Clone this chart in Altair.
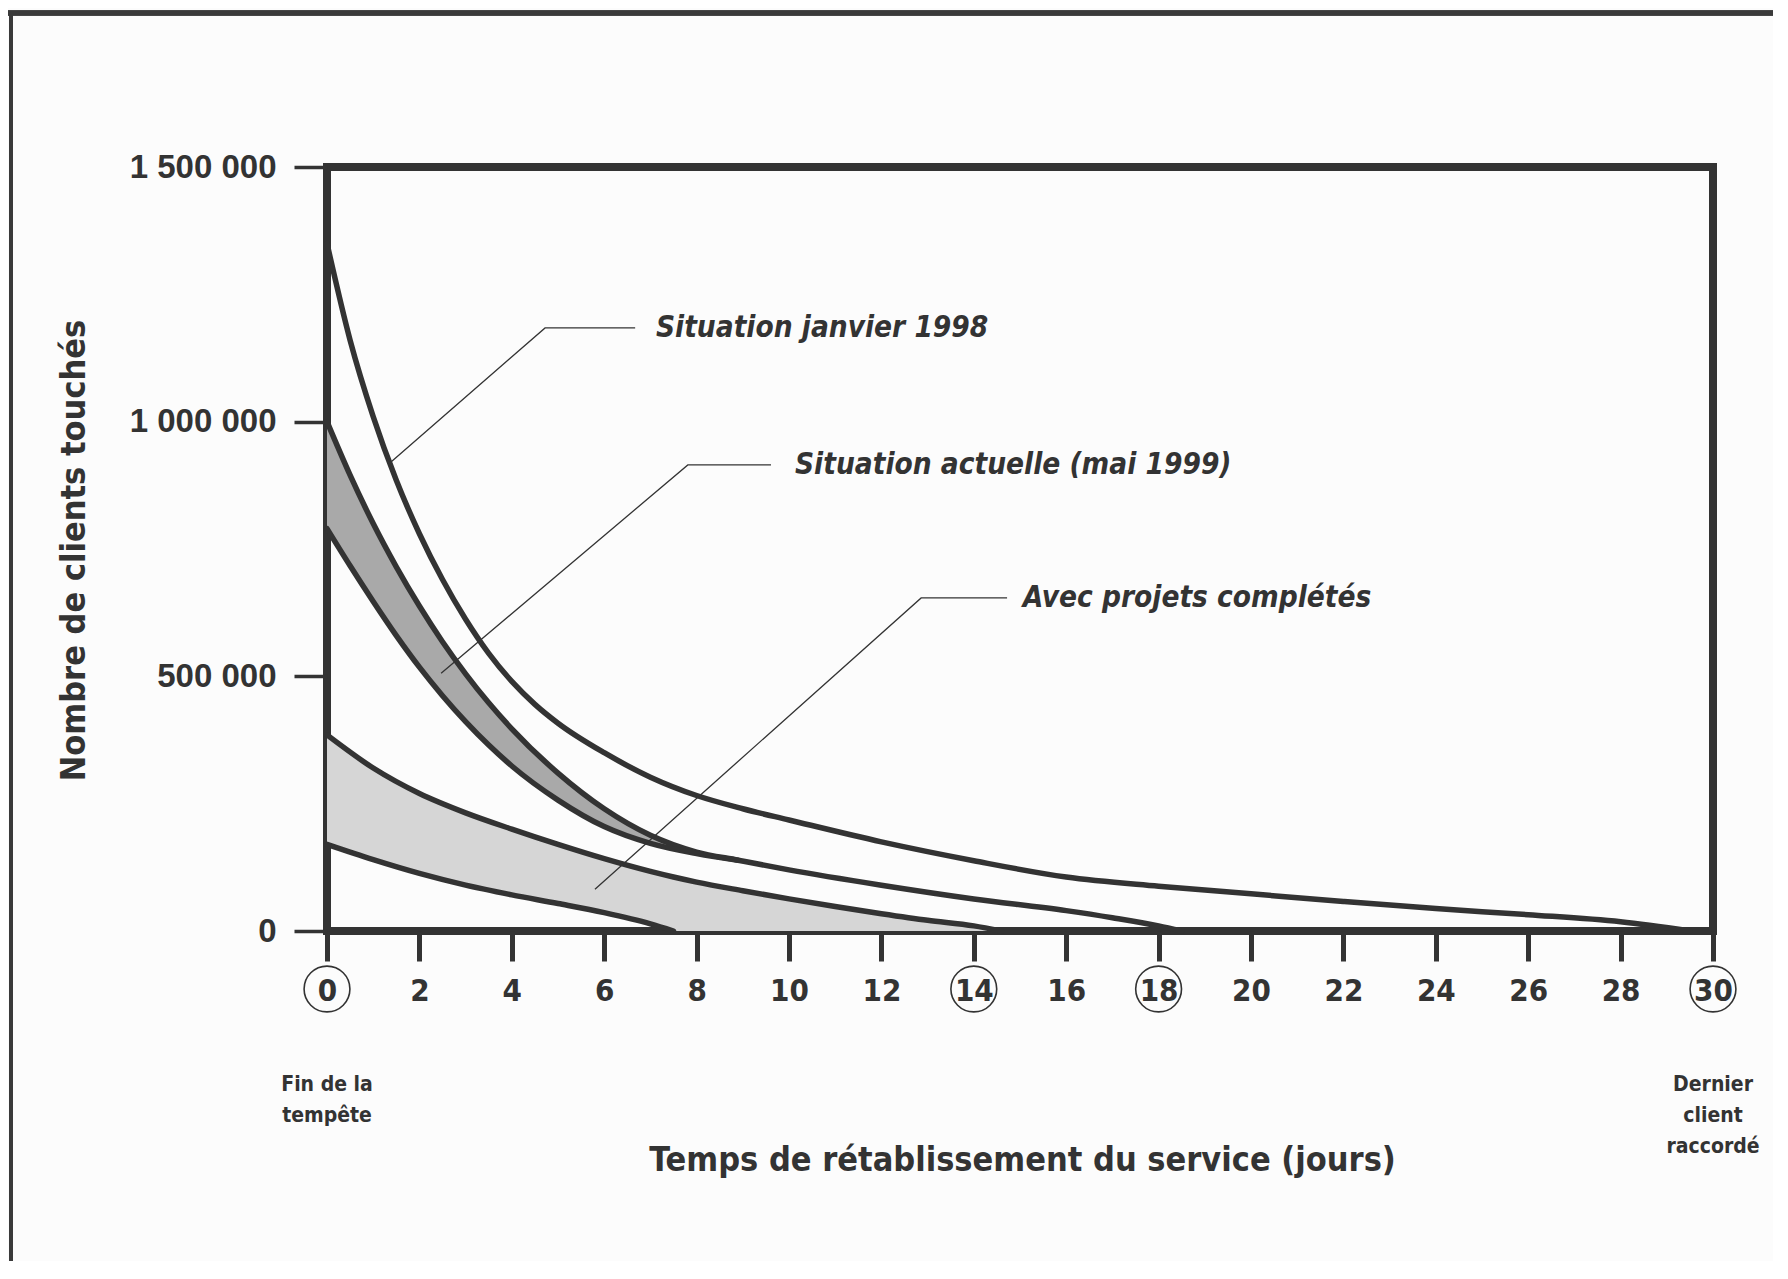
import altair as alt
import pandas as pd

# ---------------- data ----------------
x_ticks = list(range(0, 31, 2))
y_ticks = [0, 500000, 1000000, 1500000]
circled_days = [0, 14, 18, 30]

# Situation janvier 1998
days_1998 = [0, 0.5, 1, 1.5, 2, 2.5, 3, 3.5, 4, 4.5, 5, 6, 7, 8, 9, 10, 12, 14, 16, 18, 20, 22, 24, 26, 28, 29.5]
vals_1998 = [1350000, 1160000, 1010000, 885000, 780000, 690000, 612000, 545000, 490000, 445000, 408000, 350000,
             302000, 266000, 240000, 218000, 175000, 138000, 106000, 88000, 73000, 58000, 44000, 32000, 18000, 0]

# Situation actuelle (mai 1999) : band
band_days = [0, 0.5, 1, 1.5, 2, 2.5, 3, 3.5, 4, 5, 6, 7, 8, 8.9]
band_top = [1000000, 895000, 800000, 715000, 638000, 568000, 505000, 448000, 397000, 310000, 240000, 188000, 155000, 139000]
band_bottom = [790000, 717000, 647000, 580000, 518000, 462000, 411000, 365000, 324000, 257000, 205000, 172000, 152000, 139000]
# continuation of the actuelle line
act_days = [10, 12, 14, 16, 17, 18, 18.5]
act_vals = [120000, 90000, 63000, 40000, 26000, 10000, 0]

# Avec projets complétés : band
proj_days = [0, 1, 2, 3, 4, 5, 6, 7, 7.5, 8, 9, 10, 11, 12, 13, 14, 14.6]
proj_top = [385000, 320000, 270000, 232000, 200000, 170000, 142000, 117000, 106000, 96000, 79000, 63000, 48000,
            34000, 21000, 10000, 0]
proj_bottom = [170000, 140000, 113000, 90000, 71000, 54000, 36000, 14000, 0, 0, 0, 0, 0, 0, 0, 0, 0]

# annotations
label_texts = ["Situation janvier 1998", "Situation actuelle (mai 1999)", "Avec projets complétés"]
label_days = [7.12, 10.13, 15.06]
label_vals = [1184000, 915000, 654000]
leader_days = [[6.67, 4.72, 1.36], [9.61, 7.81, 2.47], [14.72, 12.86, 5.80]]
leader_vals = [[1184000, 1184000, 919000], [915000, 915000, 506000], [654000, 654000, 82000]]

# ---------------- tables ----------------
rows = []
for d, v in zip(days_1998, vals_1998):
    rows.append(("jan1998", d, v))
for d, v in zip(band_days + act_days, band_top + act_vals):
    rows.append(("actuelle_haut", d, v))
for d, v in zip(band_days, band_bottom):
    rows.append(("actuelle_bas", d, v))
for d, v in zip(proj_days, proj_top):
    rows.append(("projets_haut", d, v))
for d, v in zip(proj_days, proj_bottom):
    if d <= 7.5:
        rows.append(("projets_bas", d, v))
lines_df = pd.DataFrame(rows, columns=["serie", "day", "value"])

band_df = pd.DataFrame({"day": band_days, "top": band_top, "bottom": band_bottom})
proj_df = pd.DataFrame({"day": proj_days, "top": proj_top, "bottom": proj_bottom})

lead_rows = []
for i, (ds, vs) in enumerate(zip(leader_days, leader_vals)):
    for k, (d, v) in enumerate(zip(ds, vs)):
        lead_rows.append((i, k, d, v))
lead_df = pd.DataFrame(lead_rows, columns=["lid", "ord", "day", "value"])
lab_df = pd.DataFrame({"txt": label_texts, "day": label_days, "value": label_vals})
circ_df = pd.DataFrame({"day": circled_days})
ends_df = pd.DataFrame({"day": [0, 30], "txt": [["Fin de la", "tempête"], ["Dernier", "client", "raccordé"]]})

# ---------------- styling ----------------
INK = "#333333"
NARROW = "DejaVu Sans Condensed, Liberation Sans Narrow, sans-serif"
W, H = 1386, 764

xs = alt.Scale(domain=[0, 30], nice=False, zero=False)
ys = alt.Scale(domain=[0, 1500000], nice=False)

x_axis = alt.Axis(
    values=x_ticks, title="Temps de rétablissement du service (jours)", domain=False, grid=False,
    tickSize=30, tickWidth=5, tickColor=INK,
    labelFont=NARROW, labelFontSize=31, labelFontWeight="bold", labelColor=INK,
    labelPadding=30, labelBaseline="middle", labelFlush=False, labelOverlap=False, labelBound=False,
    titleFont=NARROW, titleFontSize=34, titleFontWeight="bold", titleColor=INK,
    titleX=695, titleY=229, titleAlign="center", titleBaseline="middle", titleAnchor="start",
)
y_axis = alt.Axis(
    values=y_ticks, title="Nombre de clients touchés", domain=False, grid=False,
    labelExpr="replace(replace(format(datum.value, ','), ',', ' '), ',', ' ')",
    tickSize=33, tickWidth=3.5, tickColor=INK,
    labelFont="Liberation Sans", labelFontSize=33, labelFontWeight="bold", labelColor=INK,
    labelPadding=18, labelFlush=False, labelOverlap=False, labelBound=False,
    titleFont=NARROW, titleFontSize=34, titleFontWeight="bold", titleColor=INK,
    titleAngle=270, titleX=-253, titleY=383, titleAlign="center", titleBaseline="middle", titleAnchor="start",
)

X = alt.X("day:Q", scale=xs, axis=x_axis)

band_area = alt.Chart(band_df).mark_area(color="#a9a9a9", interpolate="monotone").encode(
    x=X, y=alt.Y("top:Q", scale=ys, axis=y_axis), y2="bottom:Q")
proj_area = alt.Chart(proj_df).mark_area(color="#d6d6d6", interpolate="monotone").encode(
    x=X, y=alt.Y("top:Q", scale=ys, axis=y_axis), y2="bottom:Q")

curves = alt.Chart(lines_df).mark_line(color=INK, strokeWidth=5.5, interpolate="monotone",
                                       strokeCap="round", strokeJoin="round").encode(
    x=X, y=alt.Y("value:Q", scale=ys, axis=y_axis), detail="serie:N")

leaders = alt.Chart(lead_df).mark_line(color=INK, strokeWidth=1.3).encode(
    x=X, y=alt.Y("value:Q", scale=ys, axis=y_axis), detail="lid:N", order="ord:Q")

labels = alt.Chart(lab_df).mark_text(
    font=NARROW, fontSize=29.5, fontWeight="bold", fontStyle="italic", color=INK,
    align="left", baseline="middle").encode(
    x=X, y=alt.Y("value:Q", scale=ys, axis=y_axis), text="txt:N")

circles = alt.Chart(circ_df).mark_point(shape="circle", filled=False, size=2100,
                                        strokeWidth=1.6, color=INK, opacity=1).encode(
    x=X, y=alt.value(822))

ends = alt.Chart(ends_df).mark_text(font=NARROW, fontSize=21, fontWeight="bold", color=INK,
                                    align="center", baseline="middle", lineHeight=31).encode(
    x=X, y=alt.value(918), text="txt")

# scan frame lines (outer border of the figure)
frame_top = alt.Chart(circ_df).mark_rule(color="#3a3a3a", strokeWidth=5).encode(
    x=alt.value(-319), x2=alt.value(1470), y=alt.value(-154))
frame_left = alt.Chart(circ_df).mark_rule(color="#3a3a3a", strokeWidth=4).encode(
    x=alt.value(-316), y=alt.value(-156), y2=alt.value(1120))

chart = alt.layer(
    proj_area, band_area, curves, leaders, labels, circles, ends, frame_top, frame_left
).properties(
    width=W, height=H,
    background="#fcfcfc",
    padding={"left": 319, "top": 159, "right": 60, "bottom": 330},
    autosize=alt.AutoSizeParams(type="none"),
).configure_view(stroke=INK, strokeWidth=8)

chart.save("out.html", embed_options={"renderer": "svg", "actions": False})
